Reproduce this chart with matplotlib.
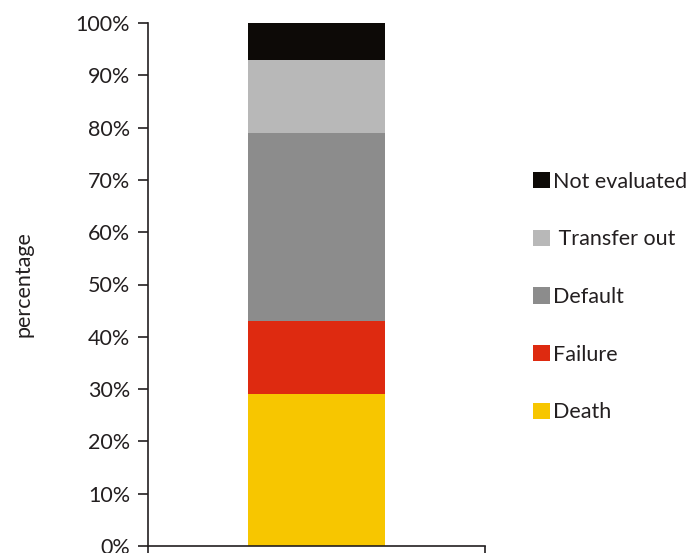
import matplotlib
matplotlib.use("Agg")
import matplotlib.pyplot as plt
from matplotlib.patches import Patch

plt.rcParams['font.family'] = ['Lato', 'DejaVu Sans']

categories = ["Death", "Failure", "Default", "Transfer out", "Not evaluated"]
legend_labels = ["Death", "Failure", "Default", " Transfer out", "Not evaluated"]
values = [29, 14, 36, 14, 7]
colors = ["#f7c600", "#de2a10", "#8c8c8c", "#b8b8b8", "#0d0a07"]
yticks = list(range(0, 101, 10))
ytick_labels = [f"{t}%" for t in yticks]

fig = plt.figure(figsize=(6.92, 5.53), dpi=100)
ax = fig.add_axes([148 / 692, 1 - 546 / 553, (485 - 148) / 692, (546 - 23) / 553])

bottom = 0
for cat, val, col in zip(categories, values, colors):
    ax.bar(0, val, width=0.404, bottom=bottom, color=col, label=cat, linewidth=0)
    bottom += val

ax.set_xlim(-0.5, 0.5)
ax.set_ylim(0, 100)
ax.set_yticks(yticks)
ax.set_yticklabels(ytick_labels, fontsize=15.5, color="#231f20")
ax.set_xticks([-0.5, 0.5])
ax.set_xticklabels(["", ""])
ax.tick_params(axis="both", direction="out", length=7, width=1.2, color="#231f20")
ax.tick_params(axis="y", pad=6)
for side in ("top", "right"):
    ax.spines[side].set_visible(False)
for side in ("left", "bottom"):
    ax.spines[side].set_linewidth(1.2)
    ax.spines[side].set_color("#231f20")

ax.set_ylabel("percentage", fontsize=15.5, color="#231f20", labelpad=30)

handles = [Patch(facecolor=c, edgecolor="none") for c in colors][::-1]
fig.legend(handles, legend_labels[::-1], loc="center left",
           bbox_to_anchor=(524 / 692, 1 - 297 / 553), frameon=False,
           fontsize=15.5, labelspacing=1.75, handlelength=0.8, handleheight=0.8,
           handletextpad=0.15, labelcolor="#231f20", borderaxespad=0.0)

fig.savefig("out.png", dpi=100)
